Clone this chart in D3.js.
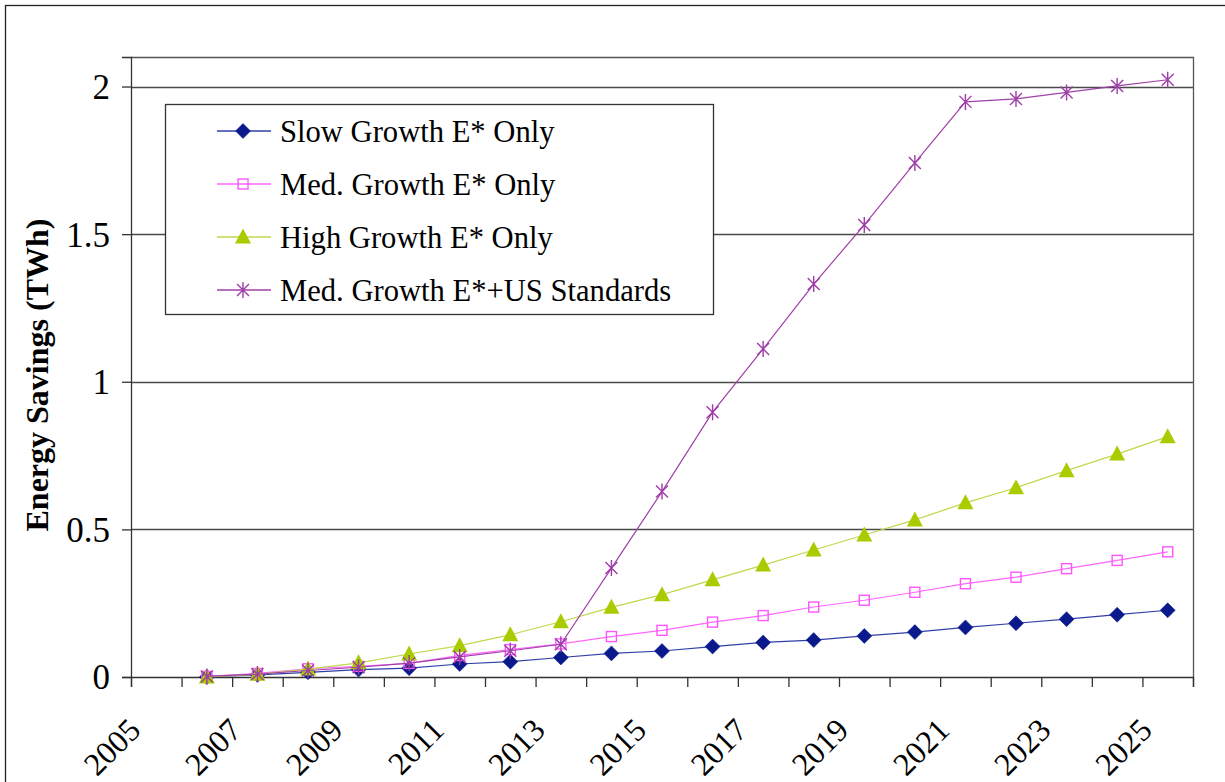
<!DOCTYPE html>
<html><head><meta charset="utf-8">
<script src="https://cdn.jsdelivr.net/npm/d3@7/dist/d3.min.js"></script>
<style>
html,body{margin:0;padding:0;background:#fff;}
</style></head>
<body>
<svg id="chart" width="1225" height="782"></svg>
<script>
// ---- data ----
const categories = d3.range(2005, 2026);            // category axis 2005..2025
const tickLabels = [2005, 2007, 2009, 2011, 2013, 2015, 2017, 2019, 2021, 2023, 2025];
const dataYears = d3.range(2006, 2026);
const slowGrowth = [0, 0.007, 0.016, 0.025, 0.030, 0.044, 0.052, 0.066, 0.080, 0.088, 0.103, 0.117, 0.125, 0.139, 0.152, 0.168, 0.182, 0.196, 0.211, 0.226];
const medGrowth  = [0.002, 0.012, 0.028, 0.036, 0.046, 0.073, 0.093, 0.112, 0.137, 0.158, 0.186, 0.208, 0.237, 0.260, 0.287, 0.316, 0.338, 0.367, 0.395, 0.424];
const highGrowth = [0, 0.009, 0.027, 0.048, 0.078, 0.106, 0.143, 0.187, 0.236, 0.279, 0.329, 0.379, 0.430, 0.481, 0.532, 0.590, 0.641, 0.699, 0.755, 0.814];
const medPlusUS  = [0.002, 0.010, 0.022, 0.033, 0.047, 0.068, 0.089, 0.111, 0.369, 0.628, 0.897, 1.111, 1.331, 1.531, 1.741, 1.948, 1.958, 1.980, 2.002, 2.023];
const yTicks = [0, 0.5, 1, 1.5, 2];
const seriesNames = ["Slow Growth E* Only", "Med. Growth E* Only", "High Growth E* Only", "Med. Growth E*+US Standards"];
const yTitle = "Energy Savings (TWh)";

const FONT = "'Liberation Serif', Tinos, 'Times New Roman', Times, 'DejaVu Serif', serif";

// ---- layout ----
const svg = d3.select("#chart").attr("font-family", FONT);
const L = 131, R = 1193, T = 57, B = 677;

const x = d3.scaleBand().domain(categories).range([L, R]).paddingInner(0).paddingOuter(0);
const xb = d3.scaleLinear().domain([0, categories.length]).range([L, R]);
const y = d3.scaleLinear().domain([0, 2.1]).range([B, T]);

// outer frame
svg.append("rect").attr("x", 5.5).attr("y", 5.5).attr("width", 1300).attr("height", 900)
  .attr("fill", "none").attr("stroke", "#222").attr("stroke-width", 1.3);

// gridlines
svg.append("g").selectAll("line").data(yTicks.filter(d => d > 0)).join("line")
  .attr("x1", L).attr("x2", R).attr("y1", d => Math.round(y(d)) + 0.5).attr("y2", d => Math.round(y(d)) + 0.5)
  .attr("stroke", "#4a4a4a").attr("stroke-width", 1.3);

// plot border top & right
svg.append("path").attr("d", `M${L},${T + 0.5}H${R + 0.5}V${B}`).attr("fill", "none")
  .attr("stroke", "#555").attr("stroke-width", 1.3);

// y axis
const yAxis = svg.append("g").attr("transform", `translate(${L},0)`)
  .call(d3.axisLeft(y).tickValues(yTicks).tickSize(9).tickPadding(12).tickFormat(d => String(d)));
yAxis.attr("font-family", FONT).attr("font-size", 35);
yAxis.select(".domain").attr("stroke", "#333").attr("stroke-width", 1.3);
yAxis.selectAll(".tick line").attr("stroke", "#333").attr("stroke-width", 1.3);
yAxis.selectAll("text").attr("fill", "#000").attr("dy", "0.34em");

// x axis (ticks at category boundaries)
const xAxis = svg.append("g").attr("transform", `translate(0,${B})`)
  .call(d3.axisBottom(xb).tickValues(d3.range(categories.length + 1)).tickSize(10).tickFormat(""));
xAxis.select(".domain").attr("stroke", "#333").attr("stroke-width", 1.3);
xAxis.selectAll(".tick line").attr("stroke", "#333").attr("stroke-width", 1.3);

// x labels rotated
svg.append("g").selectAll("text").data(tickLabels).join("text")
  .attr("transform", d => `translate(${x(d) + x.bandwidth() / 2 - 14},732) rotate(-45)`)
  .attr("text-anchor", "end").attr("font-family", FONT).attr("font-size", 32).attr("fill", "#000").text(d => d);

// y title
svg.append("text").attr("transform", `translate(48,375) rotate(-90)`).attr("text-anchor", "middle")
  .attr("font-family", FONT).attr("font-size", 32).attr("font-weight", "bold").attr("fill", "#000").text(yTitle);

// ---- markers ----
const mk = {
  diamond: (g, c) => g.append("path").attr("d", "M0,-7.5L7.5,0L0,7.5L-7.5,0Z").attr("fill", c.fill).attr("stroke", c.fill).attr("stroke-width", 0.5),
  square: (g, c) => g.append("rect").attr("x", -5).attr("y", -5).attr("width", 10).attr("height", 10).attr("fill", "none").attr("stroke", c.fill).attr("stroke-width", 1.4),
  triangle: (g, c) => g.append("path").attr("d", "M0,-8.5L8,6.5L-8,6.5Z").attr("fill", c.fill),
  star: (g, c) => g.append("path").attr("d", "M-6,-6L6,6M-6,6L6,-6M0,-8V8").attr("fill", "none").attr("stroke", c.fill).attr("stroke-width", 1.4)
};
const series = [
  { name: seriesNames[0], values: slowGrowth, line: "#3040a8", fill: "#0a1a8c", marker: "diamond" },
  { name: seriesNames[1], values: medGrowth,  line: "#ff66ff", fill: "#ff55ff", marker: "square" },
  { name: seriesNames[2], values: highGrowth, line: "#bfd84a", fill: "#a8cc00", marker: "triangle" },
  { name: seriesNames[3], values: medPlusUS,  line: "#a040a8", fill: "#a03ca8", marker: "star" }
];
const cx = yr => x(yr) + x.bandwidth() / 2;
const lineGen = d3.line().x((d, i) => cx(dataYears[i])).y(d => y(d));

series.forEach(s => {
  const g = svg.append("g");
  g.append("path").attr("d", lineGen(s.values)).attr("fill", "none").attr("stroke", s.line).attr("stroke-width", 1.2);
  s.values.forEach((v, i) => {
    const m = g.append("g").attr("transform", `translate(${cx(dataYears[i])},${y(v)})`);
    mk[s.marker](m, s);
  });
});

// ---- legend ----
const lg = svg.append("g");
lg.append("rect").attr("x", 165.5).attr("y", 104.5).attr("width", 548).attr("height", 210)
  .attr("fill", "#fff").attr("stroke", "#333").attr("stroke-width", 1.3);
const rowY = [131, 184, 237, 290];
series.forEach((s, i) => {
  const gy = rowY[i];
  lg.append("line").attr("x1", 217).attr("x2", 271).attr("y1", gy).attr("y2", gy).attr("stroke", s.line).attr("stroke-width", 1.5);
  const m = lg.append("g").attr("transform", `translate(243,${gy})`);
  mk[s.marker](m, s);
  lg.append("text").attr("x", 280).attr("y", gy).attr("dy", "0.35em").attr("font-family", FONT).attr("font-size", 30.6).attr("fill", "#000").text(s.name);
});
</script>
</body></html>
